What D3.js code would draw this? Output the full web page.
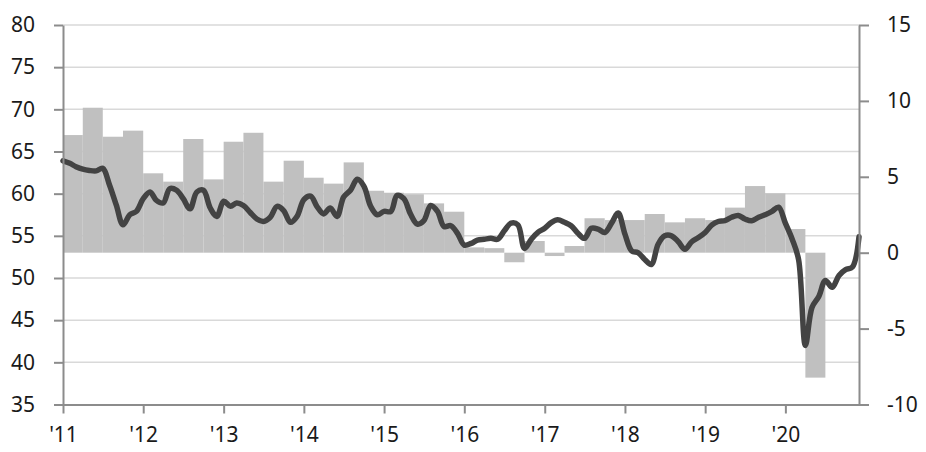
<!DOCTYPE html>
<html>
<head>
  <meta charset="utf-8">
  <title>PMI chart</title>
  <script src="https://d3js.org/d3.v7.min.js"></script>
  <style>
    body { margin: 0; background: #fff; }
    svg { display: block; }
    .tick text { font-family: "Noto Sans", sans-serif; font-size: 21px; fill: #1a1a1a; }
  </style>
</head>
<body>
  <div id="chart"></div>
  <script>
    // monthly index (left axis), Jan 2011 .. Dec 2020
    var lineValues = [
      63.9, 63.6, 63.2, 62.9, 62.75, 62.7, 63.0, 61.0, 58.6, 56.3, 57.5, 57.9,
      59.4, 60.2, 59.2, 58.9, 60.6, 60.4, 59.4, 58.2, 60.2, 60.4, 58.3, 57.3,
      59.1, 58.5, 58.9, 58.6, 57.8, 57.0, 56.7, 57.2, 58.5, 58.0, 56.6, 57.3,
      59.3, 59.7, 58.5, 57.6, 58.3, 57.3, 59.6, 60.4, 61.7, 60.9, 58.5, 57.5,
      57.9, 57.9, 59.8, 59.4, 57.6, 56.4, 56.8, 58.6, 57.9, 56.1, 56.2, 55.3,
      53.9, 54.1, 54.5, 54.6, 54.7, 54.6, 55.6, 56.5, 56.3, 53.5, 54.6, 55.4,
      55.9, 56.6, 56.9, 56.6, 56.2, 55.3, 54.7, 55.9, 55.8, 55.4, 56.5, 57.7,
      55.2, 53.2, 53.0, 52.2, 51.6, 54.0, 55.0, 55.0, 54.3, 53.4, 54.3, 54.8,
      55.4, 56.3, 56.7, 56.8, 57.2, 57.4, 57.0, 56.8, 57.2, 57.5, 57.9, 58.4,
      56.5, 54.6, 52.2, 42.0, 46.5, 47.8, 49.7, 48.9, 50.3, 51.0, 51.3, 54.9
    ];
    // quarterly change (right axis), Q1 2011 .. Q4 2020
    var barValues = [
      7.75, 9.55, 7.64, 8.04,
      5.23, 4.68, 7.49, 4.83,
      7.31, 7.9, 4.68, 6.06,
      4.94, 4.55, 5.95, 4.08,
      3.95, 3.85, 3.25, 2.7,
      0.35, 0.3, -0.63, 0.77,
      -0.22, 0.44, 2.27, 2.15,
      2.15, 2.55, 2.0, 2.27,
      2.15, 2.97, 4.39, 3.91,
      1.56, -8.23, null, null
    ];
    var leftTicks = [35, 40, 45, 50, 55, 60, 65, 70, 75, 80];
    var rightTicks = [-10, -5, 0, 5, 10, 15];

    var W = 926, H = 452;
    var margin = {top: 25, right: 67, bottom: 47.5, left: 63};

    var months = lineValues.map(function(v, i) {
      return {date: new Date(2011, i, 1), value: v};
    });
    var quarters = barValues.map(function(v, i) {
      return {start: new Date(2011, i * 3, 1), end: new Date(2011, i * 3 + 3, 1), value: v};
    }).filter(function(d) { return d.value !== null; });

    var svg = d3.select("#chart").append("svg")
      .attr("width", W)
      .attr("height", H);

    var x = d3.scaleTime()
      .domain([new Date(2011, 0, 1), new Date(2020, 11, 1)])
      .range([margin.left, W - margin.right]);
    var yL = d3.scaleLinear().domain([35, 80]).range([H - margin.bottom, margin.top]);
    var yR = d3.scaleLinear().domain([-10, 15]).range([H - margin.bottom, margin.top]);

    // gridlines
    svg.append("g")
      .selectAll("line")
      .data(leftTicks.slice(1))
      .enter().append("line")
        .attr("x1", margin.left)
        .attr("x2", W - margin.right)
        .attr("y1", function(d) { return yL(d); })
        .attr("y2", function(d) { return yL(d); })
        .attr("stroke", "#d9d9d9")
        .attr("stroke-width", 1.5);

    // quarterly bars
    svg.append("g")
      .selectAll("rect")
      .data(quarters)
      .enter().append("rect")
        .attr("x", function(d) { return x(d.start); })
        .attr("width", function(d) { return x(d.end) - x(d.start); })
        .attr("y", function(d) { return yR(Math.max(0, d.value)); })
        .attr("height", function(d) { return Math.abs(yR(d.value) - yR(0)); })
        .attr("fill", "#c0c0c0");

    // monthly line
    svg.append("path")
      .datum(months)
      .attr("fill", "none")
      .attr("stroke", "#434343")
      .attr("stroke-width", 5.5)
      .attr("stroke-linejoin", "round")
      .attr("stroke-linecap", "round")
      .attr("d", d3.line()
        .curve(d3.curveCatmullRom.alpha(0.5))
        .x(function(d) { return x(d.date); })
        .y(function(d) { return yL(d.value); }));

    function styleAxis(g) {
      g.select(".domain").attr("stroke", "#8c8c8c").attr("stroke-width", 2);
      g.selectAll(".tick line").attr("stroke", "#8c8c8c").attr("stroke-width", 2);
    }

    svg.append("g")
      .attr("transform", "translate(" + margin.left + ",0)")
      .call(d3.axisLeft(yL).tickValues(leftTicks).tickSize(9).tickPadding(19).tickSizeOuter(0))
      .call(styleAxis);

    svg.append("g")
      .attr("transform", "translate(" + (W - margin.right) + ",0)")
      .call(d3.axisRight(yR).tickValues(rightTicks).tickFormat(function(d) { return String(d); })
        .tickSize(10).tickPadding(18).tickSizeOuter(0))
      .call(styleAxis);

    var yearTicks = d3.range(2011, 2021).map(function(y) { return new Date(y, 0, 1); });
    svg.append("g")
      .attr("transform", "translate(0," + (H - margin.bottom) + ")")
      .call(d3.axisBottom(x).tickValues(yearTicks).tickFormat(d3.timeFormat("'%y"))
        .tickSize(9).tickPadding(14).tickSizeOuter(0))
      .call(styleAxis);
  </script>
</body>
</html>
